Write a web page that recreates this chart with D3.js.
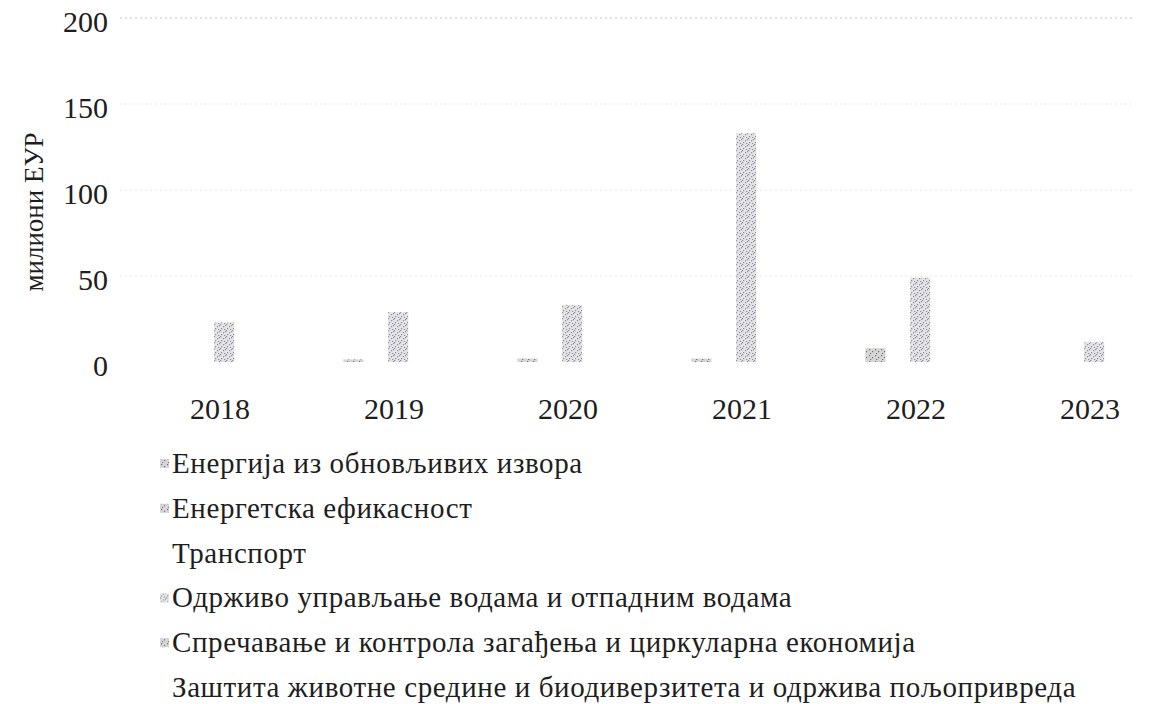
<!DOCTYPE html>
<html><head><meta charset="utf-8">
<script src="https://cdn.jsdelivr.net/npm/d3@7"></script>
<style>
html,body{margin:0;padding:0;background:#fff;}
svg{display:block;font-family:"Liberation Serif","Times New Roman",serif;}
</style></head>
<body>
<svg id="chart" width="1161" height="704"></svg>
<script>
const years = ["2018","2019","2020","2021","2022","2023"];
const seriesNames = [
  "Енергија из обновљивих извора",
  "Енергетска ефикасност",
  "Транспорт",
  "Одрживо управљање водама и отпадним водама",
  "Спречавање и контрола загађења и циркуларна економија",
  "Заштита животне средине и биодиверзитета и одржива пољопривреда"
];
const renewables   = [0, 0, 0, 0, 0, 0];
const efficiency   = [0, 1.5, 2, 2, 8, 0];
const transport    = [0, 0, 0, 0, 0, 0];
const water        = [23, 29, 33, 133, 49, 11.5];
const pollution    = [0, 0, 0, 0, 0, 0];
const biodiversity = [0, 0, 0, 0, 0, 0];
const yTicks = [0, 50, 100, 150, 200];
const yTitle = "милиони ЕУР";

const seriesValues = [renewables, efficiency, transport, water, pollution, biodiversity];
const fills = ["url(#patA)", "url(#patA)", "#ffffff", "url(#patB)", "url(#patA)", "#ffffff"];

const svg = d3.select("#chart");
const defs = svg.append("defs");
function speckle(id, bg, dot, dots) {
  const p = defs.append("pattern").attr("id", id).attr("patternUnits", "userSpaceOnUse")
    .attr("width", 6).attr("height", 6);
  p.append("rect").attr("width", 6).attr("height", 6).attr("fill", bg);
  dots.forEach(d => p.append("rect").attr("x", d[0]).attr("y", d[1]).attr("width", 1.2).attr("height", 1.2).attr("fill", dot));
}
speckle("patB", "#e4e4e8", "#8c8c94", [[0,0],[3,2],[1,4],[4,5],[5,1]]);
speckle("patA", "#d6d6d8", "#707074", [[1,1],[4,3],[2,5]]);

const x = d3.scaleBand().domain(years).range([133, 1177]);
const xInner = d3.scaleBand().domain(d3.range(seriesNames.length)).range([-73, 59]).paddingInner(0.1);
const y = d3.scaleLinear().domain([0, 200]).range([362, 18]);

// gridlines
svg.append("g").selectAll("line").data(yTicks.filter(t => t > 0)).join("line")
  .attr("x1", 120).attr("x2", 1135)
  .attr("y1", d => y(d)).attr("y2", d => y(d))
  .attr("stroke", d => d === 200 ? "#c4c4c4" : "#e8e8e8")
  .attr("stroke-width", 1.2)
  .attr("stroke-dasharray", "2,3");

// y tick labels
svg.append("g").selectAll("text").data(yTicks).join("text")
  .attr("x", 108).attr("y", d => y(d) + 3)
  .attr("text-anchor", "end").attr("dominant-baseline", "central")
  .attr("font-size", 30).attr("fill", "#1e1e1e")
  .text(d => d);

// y title
svg.append("text")
  .attr("transform", "translate(34,212) rotate(-90)")
  .attr("text-anchor", "middle").attr("dominant-baseline", "central")
  .attr("font-size", 27).attr("fill", "#1e1e1e")
  .text(yTitle);

// bars
const groups = svg.append("g").selectAll("g").data(years).join("g")
  .attr("transform", d => `translate(${x(d) + x.bandwidth() / 2},0)`);
groups.selectAll("rect").data((yr, i) => seriesValues.map((s, k) => ({k, v: s[i]})).filter(d => d.v > 0)).join("rect")
  .attr("x", d => xInner(d.k))
  .attr("width", xInner.bandwidth())
  .attr("y", d => y(d.v))
  .attr("height", d => y(0) - y(d.v))
  .attr("fill", d => fills[d.k]);

// x labels
svg.append("g").selectAll("text").data(years).join("text")
  .attr("x", d => x(d) + x.bandwidth() / 2).attr("y", 408)
  .attr("text-anchor", "middle").attr("dominant-baseline", "central")
  .attr("font-size", 30).attr("fill", "#1e1e1e")
  .text(d => d);

// legend
const leg = svg.append("g").selectAll("g").data(seriesNames).join("g")
  .attr("transform", (d, i) => `translate(160,${463 + i * 44.8})`);
leg.append("rect").attr("x", 0).attr("y", -4).attr("width", 9).attr("height", 9)
  .attr("fill", (d, i) => fills[i]);
leg.append("text").attr("x", 12).attr("y", 0)
  .attr("dominant-baseline", "central")
  .attr("font-size", 29).attr("letter-spacing", 0.6).attr("fill", "#1e1e1e")
  .text(d => d);
</script>
</body></html>
